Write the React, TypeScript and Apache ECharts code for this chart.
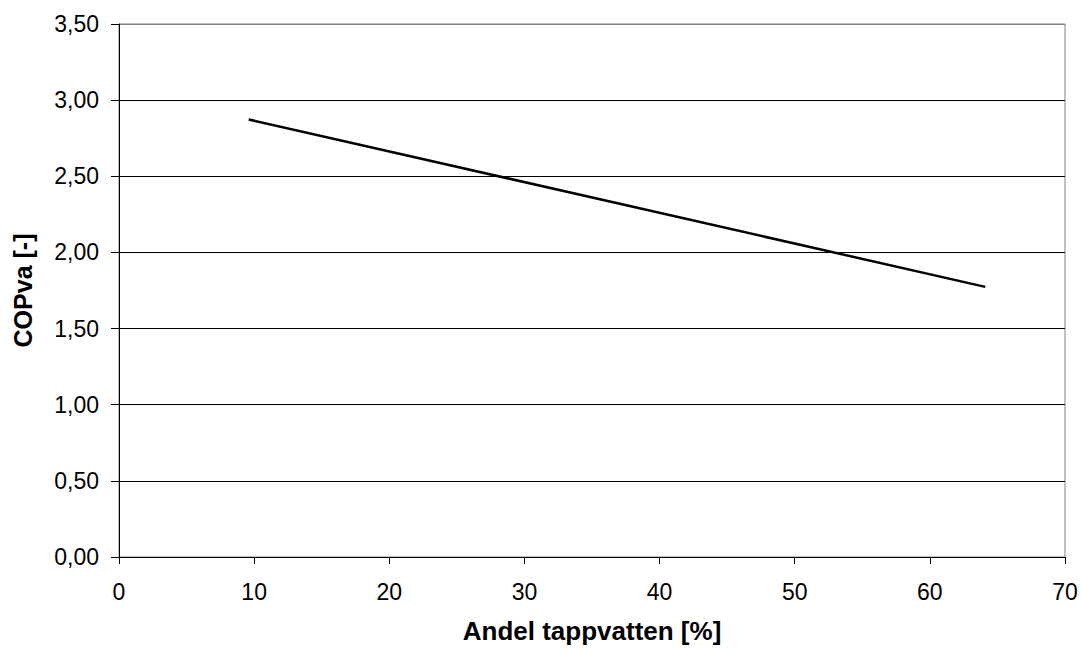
import React, { useEffect, useRef } from "react";
import * as echarts from "echarts";

// Data
const andelTappvatten = [9.6, 64.1]; // x values [%]
const copVa = [2.873, 1.774]; // COPva [-]

const xAxisTitle = "Andel tappvatten [%]";
const yAxisTitle = "COPva [-]";

const FONT = "'Liberation Sans', Arial, sans-serif";

export default function App() {
  const ref = useRef<HTMLDivElement>(null);

  useEffect(() => {
    if (!ref.current) return;
    const chart = echarts.init(ref.current, undefined, { renderer: "svg" });
    const points = andelTappvatten.map((x, i) => [x, copVa[i]]);
    chart.setOption({
      animation: false,
      backgroundColor: "#ffffff",
      textStyle: { fontFamily: FONT },
      grid: {
        left: 119,
        right: 16,
        top: 24,
        bottom: 93,
        show: true,
        borderColor: "#808080",
        borderWidth: 1,
        backgroundColor: "transparent",
      },
      xAxis: {
        type: "value",
        min: 0,
        max: 70,
        interval: 10,
        name: xAxisTitle,
        nameLocation: "middle",
        nameGap: 61,
        nameTextStyle: { fontFamily: FONT, fontSize: 26, fontWeight: "bold", color: "#000" },
        axisLine: { show: true, onZero: false, lineStyle: { color: "#000", width: 1 } },
        axisTick: { show: true, inside: false, length: 7, lineStyle: { color: "#000" } },
        axisLabel: { fontFamily: FONT, fontSize: 23, color: "#000", margin: 23 },
        splitLine: { show: false },
      },
      yAxis: {
        type: "value",
        min: 0,
        max: 3.5,
        interval: 0.5,
        name: yAxisTitle,
        nameLocation: "middle",
        nameGap: 84,
        nameRotate: 90,
        nameTextStyle: { fontFamily: FONT, fontSize: 25, fontWeight: "bold", color: "#000" },
        axisLine: { show: true, onZero: false, lineStyle: { color: "#000", width: 1 } },
        axisTick: { show: true, inside: false, length: 8, lineStyle: { color: "#000" } },
        axisLabel: {
          fontFamily: FONT,
          fontSize: 23,
          color: "#000",
          margin: 20,
          formatter: (v: number) => v.toFixed(2).replace(".", ","),
        },
        splitLine: {
          show: true,
          lineStyle: {
            color: ["#000", "#000", "#000", "#000", "#000", "#000", "#000", "#808080"],
            width: 1,
          },
        },
      },
      series: [
        {
          type: "line",
          data: points,
          showSymbol: false,
          symbol: "none",
          lineStyle: { color: "#000", width: 2.5 },
        },
      ],
    });
    return () => chart.dispose();
  }, []);

  return (
    <div
      ref={ref}
      style={{ position: "fixed", left: 0, top: 0, width: 1081, height: 650, background: "#fff" }}
    />
  );
}
